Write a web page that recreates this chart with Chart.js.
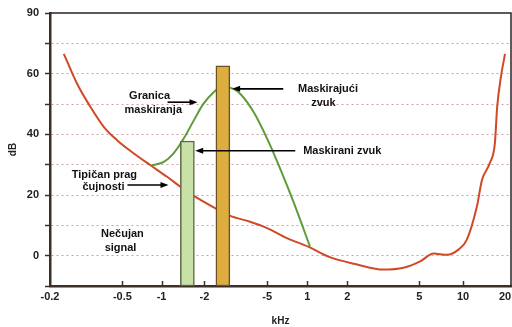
<!DOCTYPE html>
<html>
<head>
<meta charset="utf-8">
<script src="https://cdn.jsdelivr.net/npm/chart.js@4/dist/chart.umd.min.js"></script>
<style>
  html, body { margin: 0; padding: 0; background: #fff; }
  #wrap { width: 512px; height: 327px; }
</style>
</head>
<body>
<div id="wrap"><canvas id="maskChart" width="512" height="327"></canvas></div>
<script>

// x axis: position of each frequency label along the axis (0..100 units)
const xTickValues = [0, 15.7, 24.2, 33.5, 47.1, 55.8, 64.5, 80.1, 89.6, 98.7];
const xTickLabels = ['-0.2', '-0.5', '-1', '-2', '-5', '1', '2', '5', '10', '20'];

// typical hearing threshold (red)
const thresholdX = [3.0, 5.9, 8.8, 11.7, 14.6, 18.2, 21.8, 25.4, 28.3, 31.2, 35.9, 39.1, 43.4, 47.1, 51.4, 56.1,
  60.7, 66.6, 72.3, 76.7, 80.3, 83.2, 86.1, 88.6, 90.4, 92.6, 93.7, 95.4, 96.5, 97.0, 97.8, 98.7];
const thresholdY = [66.5, 56.6, 49.0, 42.4, 38.0, 33.7, 29.8, 26.0, 22.7, 19.7, 15.6, 13.1, 11.2, 9.1, 5.8, 2.9,
  -0.5, -2.9, -4.6, -4.0, -1.9, 0.7, 0.3, 2.0, 5.2, 16.2, 24.9, 30.5, 37.0, 49.0, 58.8, 66.5];

// masking threshold (green)
const maskX = [22.1, 24.7, 26.8, 29.0, 31.2, 33.3, 35.5, 37.4, 39.8, 41.3, 44.2, 47.1, 49.9, 52.8, 56.4];
const maskY = [29.8, 30.9, 33.7, 38.6, 44.6, 50.1, 53.9, 55.8, 55.0, 53.3, 47.3, 38.6, 28.8, 17.8, 3.0];

// the two tones
const toneNames = ['Maskirani zvuk', 'Maskirajući zvuk'];
const toneX = [29.8, 37.5];
const toneLevel = [37.8, 62.6];

const yMin = -10;
const yMax = 80;

function points(xs, ys) {
  return xs.map((x, i) => ({x: x, y: ys[i]}));
}

// labels and arrows, in axis units
const notes = [
  {text: 'Granica', x: 21.6, y: 52.8},
  {text: 'maskiranja', x: 22.4, y: 48.0},
  {text: 'Maskirajući', x: 60.3, y: 55.1},
  {text: 'zvuk', x: 59.3, y: 50.2},
  {text: 'Maskirani zvuk', x: 63.4, y: 34.4},
  {text: 'Tipičan prag', x: 11.8, y: 26.6},
  {text: 'čujnosti', x: 11.6, y: 22.6},
  {text: 'Nečujan', x: 15.7, y: 7.2},
  {text: 'signal', x: 15.3, y: 2.6}
];
const arrows = [
  {x1: 25.5, x2: 32.0, y: 50.6},
  {x1: 50.6, x2: 39.5, y: 55.0},
  {x1: 53.2, x2: 31.5, y: 34.6},
  {x1: 16.8, x2: 25.7, y: 23.3}
];

const extras = {
  id: 'extras',
  afterDatasetsDraw(chart) {
    const ctx = chart.ctx;
    const xs = chart.scales.x, ys = chart.scales.y;
    const a = chart.chartArea;

    ctx.save();
    // frame top / right
    ctx.strokeStyle = '#2b2420';
    ctx.lineWidth = 1.5;
    ctx.beginPath();
    ctx.moveTo(a.left, a.top);
    ctx.lineTo(a.right, a.top);
    ctx.lineTo(a.right, a.bottom);
    ctx.stroke();

    // x tick marks point into the plot
    ctx.lineWidth = 1.5;
    ctx.strokeStyle = '#3b2f28';
    xTickValues.forEach((v, i) => {
      if (i === 0 || i === xTickValues.length - 1) return;
      const px = Math.round(xs.getPixelForValue(v)) + 0.5;
      ctx.beginPath();
      ctx.moveTo(px, a.bottom);
      ctx.lineTo(px, a.bottom - 5);
      ctx.stroke();
    });

    // arrows
    ctx.strokeStyle = '#000';
    ctx.fillStyle = '#000';
    ctx.lineWidth = 1.6;
    arrows.forEach((ar) => {
      const x1 = xs.getPixelForValue(ar.x1);
      const x2 = xs.getPixelForValue(ar.x2);
      const y = ys.getPixelForValue(ar.y);
      const dir = x2 > x1 ? 1 : -1;
      ctx.beginPath();
      ctx.moveTo(x1, y);
      ctx.lineTo(x2 - dir * 6, y);
      ctx.stroke();
      ctx.beginPath();
      ctx.moveTo(x2, y);
      ctx.lineTo(x2 - dir * 8, y - 3);
      ctx.lineTo(x2 - dir * 8, y + 3);
      ctx.closePath();
      ctx.fill();
    });

    // text
    ctx.font = 'bold 11px "Liberation Sans", Arial, sans-serif';
    ctx.fillStyle = '#111';
    ctx.textAlign = 'center';
    ctx.textBaseline = 'middle';
    notes.forEach((n) => {
      ctx.fillText(n.text, xs.getPixelForValue(n.x), ys.getPixelForValue(n.y));
    });
    ctx.restore();
  }
};

const ctx = document.getElementById('maskChart').getContext('2d');
const chart = new Chart(ctx, {
  type: 'line',
  data: {
    datasets: [
      {
        type: 'bar',
        label: 'Tonovi',
        data: toneX.map((x, i) => ({x: x, y: [yMin, toneLevel[i]]})),
        backgroundColor: ['#c8e1a6', '#ddae3f'],
        borderColor: ['#5d6446', '#6b5020'],
        borderWidth: 1.5,
        borderSkipped: false,
        barThickness: 14,
        order: 0
      },
      {
        label: 'Granica maskiranja',
        data: points(maskX, maskY),
        borderColor: '#5f9b38',
        borderWidth: 2,
        pointRadius: 0,
        cubicInterpolationMode: 'monotone',
        order: 1
      },
      {
        label: 'Tipičan prag čujnosti',
        data: points(thresholdX, thresholdY),
        borderColor: '#cf4a26',
        borderWidth: 2,
        pointRadius: 0,
        cubicInterpolationMode: 'monotone',
        order: 2
      }
    ]
  },
  options: {
    responsive: false,
    animation: false,
    layout: {padding: {top: 13, right: 1, left: 0, bottom: 0}},
    plugins: {
      legend: {display: false},
      tooltip: {enabled: false}
    },
    scales: {
      x: {
        type: 'linear',
        min: 0,
        max: 100,
        offset: false,
        afterBuildTicks: (scale) => {
          scale.ticks = xTickValues.map((v) => ({value: v}));
        },
        afterFit: (scale) => {
          scale.height = 41;
          scale.paddingLeft = 0;
          scale.paddingRight = 0;
        },
        ticks: {
          autoSkip: false,
          maxRotation: 0,
          padding: 4,
          color: '#222',
          font: {family: '"Liberation Sans", Arial, sans-serif', size: 11, weight: 'bold'},
          callback: (v, i) => xTickLabels[i]
        },
        grid: {display: false, drawTicks: false, offset: false},
        border: {color: '#3b2f28', width: 2.5},
        title: {
          display: true,
          text: 'kHz',
          color: '#222',
          font: {family: '"Liberation Sans", Arial, sans-serif', size: 10, weight: 'bold'},
          padding: {top: 0, bottom: 0}
        }
      },
      y: {
        min: yMin,
        max: yMax,
        afterFit: (scale) => {
          scale.width = 50;
          scale.paddingTop = 0;
          scale.paddingBottom = 0;
        },
        ticks: {
          stepSize: 10,
          padding: 6,
          color: '#222',
          font: {family: '"Liberation Sans", Arial, sans-serif', size: 11, weight: 'bold'},
          callback: (v) => {
            if (v === yMax) return '90';
            if (v >= 0 && v % 20 === 0) return String(v);
            return '';
          }
        },
        grid: {
          color: (c) => (c.tick && (c.tick.value === yMin || c.tick.value === yMax)) ? 'rgba(0,0,0,0)' : '#c9a3a3',
          lineWidth: 1,
          tickLength: 5,
          tickColor: '#3b2f28',
          tickWidth: 1.5,
          tickBorderDash: []
        },
        border: {color: '#3b2f28', width: 2.5, dash: [2, 3]},
        title: {
          display: true,
          text: 'dB',
          color: '#222',
          font: {family: '"Liberation Sans", Arial, sans-serif', size: 10, weight: 'bold'},
          padding: {top: 7, bottom: 0}
        }
      }
    }
  },
  plugins: [extras]
});
</script>
</body>
</html>
